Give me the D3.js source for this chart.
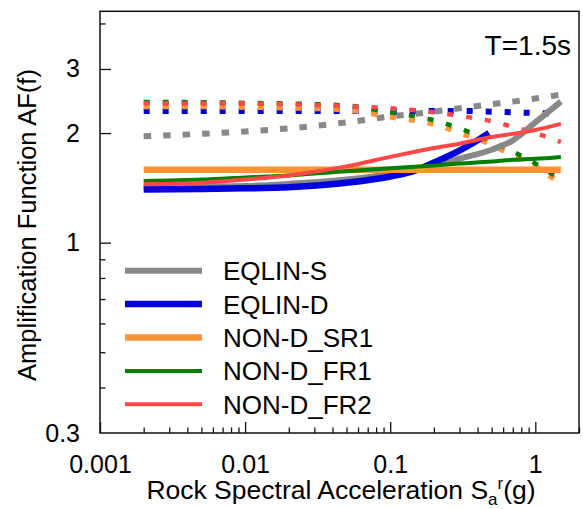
<!DOCTYPE html>
<html>
<head>
<meta charset="utf-8">
<script src="https://cdn.jsdelivr.net/npm/d3@7"></script>
<style>
  body { margin: 0; background: #fff; }
  svg { font-family: "Liberation Sans", Arial, sans-serif; }
</style>
</head>
<body>
<svg id="chart" width="583" height="509"></svg>
<script>
// data
var sa = [0.002, 0.005, 0.01, 0.02, 0.05, 0.1, 0.2, 0.3, 0.5, 0.7, 1, 1.5];
var saBlue = [0.002, 0.005, 0.01, 0.02, 0.05, 0.1, 0.15, 0.2, 0.3, 0.4, 0.48];

var eqlinS   = [1.42, 1.425, 1.43, 1.45, 1.49, 1.545, 1.62, 1.70, 1.80, 1.91, 2.14, 2.44];
var eqlinD   = [1.40, 1.405, 1.41, 1.42, 1.46, 1.52, 1.58, 1.66, 1.79, 1.91, 2.0];
var nonSR1   = [1.585, 1.585, 1.585, 1.585, 1.585, 1.585, 1.585, 1.585, 1.585, 1.585, 1.585, 1.585];
var nonFR1   = [1.477, 1.49, 1.51, 1.53, 1.57, 1.60, 1.63, 1.65, 1.67, 1.69, 1.70, 1.72];
var nonFR2   = [1.447, 1.46, 1.49, 1.53, 1.62, 1.72, 1.82, 1.87, 1.95, 1.99, 2.04, 2.12];

// dotted companions
var eqlinSdot = [1.96, 1.99, 2.02, 2.06, 2.14, 2.22, 2.29, 2.34, 2.40, 2.44, 2.49, 2.55];
var eqlinDdot = [2.30, 2.30, 2.30, 2.30, 2.30, 2.30, 2.30, 2.30, 2.29, 2.28, 2.27, 2.26];
var nonSR1dot = [2.37, 2.37, 2.36, 2.35, 2.32, 2.22, 2.12, 2.01, 1.86, 1.74, 1.62, 1.456];
var nonFR1dot = [2.435, 2.43, 2.42, 2.41, 2.38, 2.28, 2.17, 2.06, 1.90, 1.78, 1.65, 1.487];
var nonFR2dot = [2.415, 2.41, 2.41, 2.40, 2.37, 2.34, 2.28, 2.23, 2.155, 2.08, 2.00, 1.89];

var names = ["EQLIN-S", "EQLIN-D", "NON-D_SR1", "NON-D_FR1", "NON-D_FR2"];
var xMajor = [0.001, 0.01, 0.1, 1];
var yMajor = [1, 2, 3];
var yLabels = [0.3, 1, 2, 3];

var colors = ["#888888", "#0000dd", "#ff9233", "#008000", "#ff4747"];
var widths = [6, 6.5, 6.5, 4, 4];

var svg = d3.select("#chart");
var mLeft = 100, mRight = 579, mTop = 11.3, mBottom = 433;

var x = d3.scaleLog().domain([0.001, 2]).range([mLeft, mRight]);
var y = d3.scaleLog().domain([0.3, 4.32]).range([mBottom, mTop]);

// minor ticks
var xMinor = [];
[0.001, 0.01, 0.1, 1].forEach(function(d) {
  for (var k = 2; k <= 9; k++) if (d * k <= 2) xMinor.push(d * k);
});
var yMinor = [0.4, 0.5, 0.6, 0.7, 0.8, 0.9, 4];

var plot = svg.append("g");

svg.append("g")
    .attr("transform", "translate(0," + mBottom + ")")
    .call(d3.axisBottom(x).tickValues(xMinor).tickSize(-5.5).tickFormat(""))
    .call(function(g) { g.select(".domain").remove(); });
svg.append("g")
    .attr("transform", "translate(0," + mBottom + ")")
    .call(d3.axisBottom(x).tickValues(xMajor).tickSize(-11).tickPadding(22)
      .tickFormat(function(d) { return d3.format("")(d); }))
    .call(function(g) { g.select(".domain").remove(); });

svg.append("g")
    .attr("transform", "translate(" + mLeft + ",0)")
    .call(d3.axisLeft(y).tickValues(yMinor).tickSize(-5.5).tickFormat(""))
    .call(function(g) { g.select(".domain").remove(); });
svg.append("g")
    .attr("transform", "translate(" + mLeft + ",0)")
    .call(d3.axisLeft(y).tickValues(yMajor).tickSize(-11).tickFormat(""))
    .call(function(g) { g.select(".domain").remove(); });
svg.append("g")
    .attr("transform", "translate(" + mLeft + ",0)")
    .call(d3.axisLeft(y).tickValues(yLabels).tickSize(0).tickPadding(20)
      .tickFormat(function(d) { return d3.format("")(d); }))
    .call(function(g) { g.select(".domain").remove(); });

svg.selectAll(".tick line").attr("stroke", "#111").attr("stroke-width", 1.3);
svg.selectAll(".tick text")
    .attr("font-size", 25)
    .attr("font-family", "Liberation Sans, Arial, sans-serif")
    .attr("fill", "#000");

// frame
svg.append("rect")
    .attr("x", mLeft).attr("y", mTop)
    .attr("width", mRight - mLeft).attr("height", mBottom - mTop)
    .attr("fill", "none").attr("stroke", "#111").attr("stroke-width", 1.5);

var line = d3.line()
    .x(function(d) { return x(d[0]); })
    .y(function(d) { return y(d[1]); })
    .curve(d3.curveMonotoneX);

var solids = [eqlinS, eqlinD, nonSR1, nonFR1, nonFR2];
var dots = [eqlinSdot, eqlinDdot, nonSR1dot, nonFR1dot, nonFR2dot];

dots.forEach(function(vals, i) {
  plot.append("path")
      .attr("d", line(d3.zip(sa, vals)))
      .attr("fill", "none")
      .attr("stroke", colors[i])
      .attr("stroke-width", i < 3 ? 6 : 4.5)
      .attr("stroke-dasharray", i == 0 ? "7.5,12" : "6,13");
});

solids.forEach(function(vals, i) {
  var xs = i == 1 ? saBlue : sa;
  plot.append("path")
      .attr("d", line(d3.zip(xs, vals)))
      .attr("fill", "none")
      .attr("stroke", colors[i])
      .attr("stroke-width", widths[i]);
});

// legend
var leg = svg.append("g");
names.forEach(function(n, i) {
  var ly = 270.7 + i * 33.4;
  leg.append("line")
      .attr("x1", 125).attr("x2", 202)
      .attr("y1", ly).attr("y2", ly)
      .attr("stroke", colors[i]).attr("stroke-width", widths[i]);
  leg.append("text")
      .attr("x", 223).attr("y", ly + 9.5)
      .attr("font-size", 26)
      .text(n);
});

// labels
svg.append("text")
    .attr("x", 571).attr("y", 55)
    .attr("text-anchor", "end")
    .attr("font-size", 28)
    .text("T=1.5s");

svg.append("text")
    .attr("transform", "translate(36,225) rotate(-90)")
    .attr("text-anchor", "middle")
    .attr("font-size", 25.5)
    .text("Amplification Function AF(f)");

var xt = svg.append("text")
    .attr("x", 341).attr("y", 499)
    .attr("text-anchor", "middle")
    .attr("font-size", 26.5);
xt.append("tspan").text("Rock Spectral Acceleration S");
xt.append("tspan").attr("font-size", 17).attr("dy", 6).text("a");
xt.append("tspan").attr("font-size", 17).attr("dy", -16).text("r");
xt.append("tspan").attr("dy", 10).text("(g)");
</script>
</body>
</html>
